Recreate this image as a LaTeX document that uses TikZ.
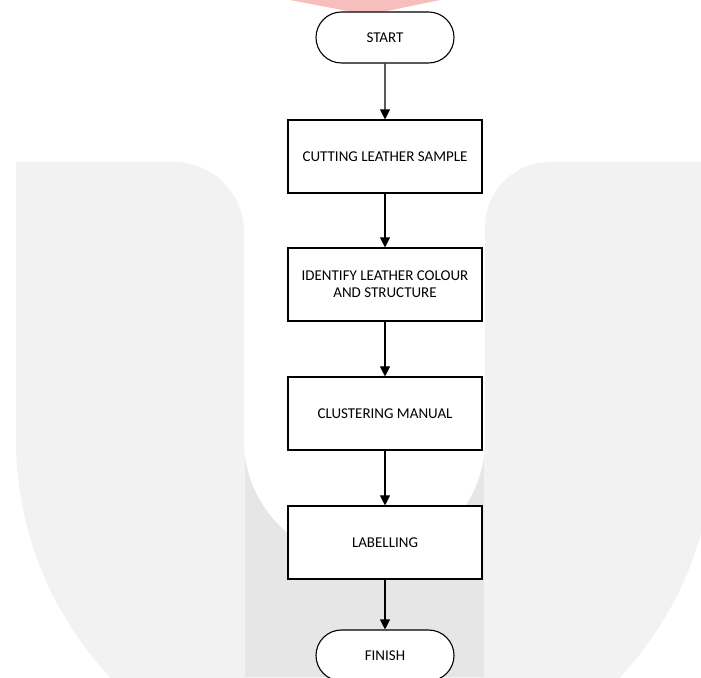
\documentclass[tikz,border=0pt]{standalone}
\usepackage{fontspec}
\setmainfont{Carlito}
\usetikzlibrary{shapes.misc,arrows.meta}
\definecolor{marcaclara}{HTML}{F2F2F2}
\definecolor{marcaescura}{HTML}{E6E6E6}
\definecolor{marcavermelha}{HTML}{F8BEBE}
\tikzset{
  terminal/.style={draw, rounded rectangle, line width=1.1pt, fill=white,
    minimum width=138pt, minimum height=51pt, inner sep=0pt,
    font=\fontsize{15}{17}\selectfont},
  processo/.style={draw, rectangle, line width=1.1pt, fill=white, align=center,
    minimum width=194pt, minimum height=73pt, inner sep=0pt,
    font=\fontsize{15}{17}\selectfont},
  seta/.style={-{Triangle[length=10pt,width=10pt]}, line width=1.1pt}
}
\begin{document}
\begin{tikzpicture}[x=1pt,y=1pt]  %Inicio do fluxograma
	\useasboundingbox (0,0) rectangle (701,677);
	\clip (0,0) rectangle (701,677);
		%Marca de agua
	\fill[marcaclara] (16,515) -- (174,515) arc[start angle=90,end angle=0,radius=70]
		-- (244,237) arc[start angle=180,end angle=360,radius=120.5]
		-- (485,450) arc[start angle=180,end angle=90,radius=65]
		-- (714,515) -- (714,238) arc[start angle=0,end angle=-180,radius=349] -- cycle; %U claro
	\fill[marcaescura] (245,0) rectangle (484,237); %Faixa escura
	\fill[white] (244,237) arc[start angle=180,end angle=360,radius=120.5] -- cycle; %Interior do U
	\fill[marcavermelha] (290,677) -- (440,677) -- (368,662) -- cycle; %Triangulo vermelho
		%Etapas
	\node[terminal] (start) at (385,639.5) {START};
	\node[processo] (cutting) at (385,520.5) {CUTTING LEATHER SAMPLE};
	\node[processo] (identify) at (385,392.5) {IDENTIFY LEATHER COLOUR\\AND STRUCTURE};
	\node[processo] (clustering) at (385,263.5) {CLUSTERING MANUAL};
	\node[processo] (labelling) at (385,134.5) {LABELLING};
	\node[terminal] (finish) at (385,21.5) {FINISH};
		%Setas
	\draw[seta] (start) -- (cutting);
	\draw[seta] (cutting) -- (identify);
	\draw[seta] (identify) -- (clustering);
	\draw[seta] (clustering) -- (labelling);
	\draw[seta] (labelling) -- (finish);
\end{tikzpicture}
\end{document}
